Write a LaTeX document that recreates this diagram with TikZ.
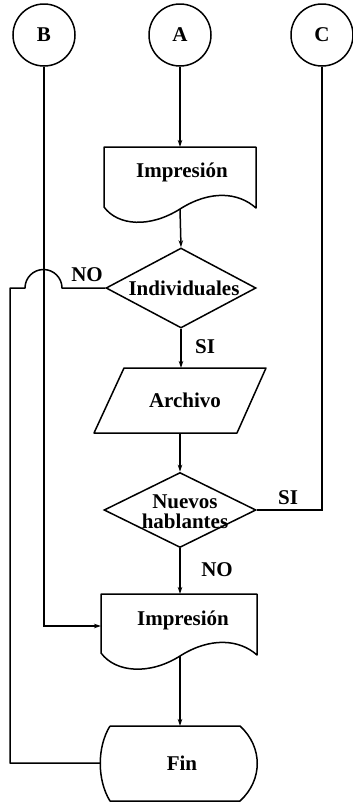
\documentclass[tikz,border=0pt]{standalone}
\usepackage{fontspec}
\setmainfont{Liberation Serif}
\usetikzlibrary{shapes.geometric,arrows.meta}
\begin{document}
\begin{tikzpicture}[x=1pt,y=-1pt,
  line width=1.5pt,
  txt/.style={font=\fontsize{21}{18}\selectfont\bfseries, inner sep=0pt},
  conn/.style={-{Stealth[length=7pt,width=4.5pt]}},
  circ/.style={circle,draw,minimum size=62pt,inner sep=0pt,txt},
  dia/.style={diamond,draw,inner sep=0pt},
  shapeline/.style={draw,line join=round}
]
\useasboundingbox (0,0) rectangle (353,804);

% connectors' circles
\node[circ] (B) at (44,35) {B};
\node[circ] (A) at (180,35) {A};
\node[circ] (C) at (322,35) {C};

% Impresion 1 (document)
\draw[shapeline] (104,207) -- (104,147) -- (256,147) -- (256,208)
  .. controls (238,192) and (210,190) .. (180,209)
  .. controls (150,228) and (118,226) .. (104,207);
\node[txt] (imp1) at (182,172) {Impresión};
\coordinate (imp1top) at (180,147);
\coordinate (imp1bot) at (180,209);

% Individuales decision
\node[dia, minimum width=150pt, minimum height=80pt] (ind) at (181,288) {};
\node[txt] (indt) at (184,288) {Individuales};

% Archivo (parallelogram)
\draw[shapeline] (124,368) -- (266,368) -- (237,433) -- (94,433) -- cycle;
\node[txt] (arch) at (185,400) {Archivo};
\coordinate (archTop) at (181,368);
\coordinate (archBot) at (180,433);

% Nuevos hablantes decision
\node[dia, minimum width=152pt, minimum height=75pt] (nue) at (180,510) {};
\node[txt, font=\fontsize{21}{20}\selectfont\bfseries, align=center] (nuet) at (185,512) {Nuevos\\hablantes};

% Impresion 2 (document)
\draw[shapeline] (101,653) -- (101,594) -- (257,594) -- (257,655)
  .. controls (239,639) and (210,637) .. (180,656)
  .. controls (150,675) and (116,673) .. (101,653);
\node[txt] (imp2) at (183,620) {Impresión};
\coordinate (imp2top) at (180,594);
\coordinate (imp2bot) at (180,656);
\coordinate (imp2left) at (101,626);

% Fin (terminal)
\draw[shapeline] (110,726) -- (240,726)
  .. controls (263,747) and (263,780) .. (240,801) -- (110,801)
  .. controls (97,780) and (97,747) .. (110,726);
\node[txt] (fin) at (182,763) {Fin};
\coordinate (finTop) at (180,726);
\coordinate (finLeft) at (100,763);

% connectors
\draw[conn] (A) -- (imp1top);
\draw[conn] (imp1bot) -- (ind.north);
\draw[conn] (ind.south) -- (archTop);
\draw[conn] (archBot) -- (nue.north);
\draw (nue.east) -| (C.south);
\draw[conn] (nue.south) -- (imp2top);
\draw[conn] (B.south) |- (imp2left);
\draw[conn] (imp2bot) -- (finTop);

\coordinate (hopR) at (62,288);
\coordinate (hopL) at (25,288);
\coordinate (leftTop) at (10,288);
\draw[line join=round] (ind.west) -- (hopR)
  .. controls (62,277.8) and (53.7,269.5) .. (43.5,269.5)
  .. controls (33.3,269.5) and (25,277.8) .. (hopL)
  -- (leftTop) |- (finLeft);

% labels
\node[txt] (no1) at (87,275) {NO};
\node[txt] (si1) at (205,347) {SI};
\node[txt] (si2) at (288,498) {SI};
\node[txt] (no2) at (217,570) {NO};
\end{tikzpicture}
\end{document}
